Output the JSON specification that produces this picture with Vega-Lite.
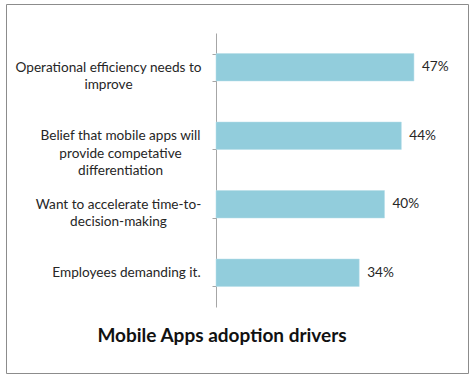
{
  "$schema": "https://vega.github.io/schema/vega-lite/v6.json",
  "autosize": "none",
  "padding": {"left": 6, "top": 4, "right": 7, "bottom": 6},
  "width": 462,
  "height": 369,
  "background": "white",
  "config": {
    "view": {"stroke": "#8c8c8c", "strokeWidth": 1},
    "font": "Lato"
  },
  "title": {
    "text": "Mobile Apps adoption drivers",
    "orient": "bottom",
    "anchor": "middle",
    "offset": -46,
    "dx": -15,
    "font": "Lato",
    "fontSize": 19,
    "fontWeight": "bold",
    "color": "#111111"
  },
  "data": {
    "values": [
      {"driver": "Operational efficiency needs to improve", "share": 0.47, "label": "47%"},
      {"driver": "Belief that mobile apps will provide competative differentiation", "share": 0.44, "label": "44%"},
      {"driver": "Want to accelerate time-to-decision-making", "share": 0.40, "label": "40%"},
      {"driver": "Employees demanding it.", "share": 0.34, "label": "34%"}
    ]
  },
  "encoding": {
    "y": {
      "field": "driver",
      "type": "nominal",
      "sort": null,
      "scale": {"range": [29, 303], "paddingInner": 0.6, "paddingOuter": 0.3},
      "axis": {
        "title": null,
        "offset": -210,
        "domainColor": "#a6a6a6",
        "tickColor": "#a6a6a6",
        "tickSize": 4,
        "tickBand": "extent",
        "labelAlign": "center",
        "labelBaseline": "middle",
        "labelFont": "Lato",
        "labelFontSize": 13.6,
        "labelColor": "#262626",
        "labelLineHeight": 17.5,
        "labelLimit": 0,
        "labelPadding": {
          "condition": [
            {"test": "datum.value === 'Operational efficiency needs to improve'", "value": 104},
            {"test": "datum.value === 'Belief that mobile apps will provide competative differentiation'", "value": 92},
            {"test": "datum.value === 'Want to accelerate time-to-decision-making'", "value": 94}
          ],
          "value": 86
        },
        "labelExpr": "datum.value === 'Operational efficiency needs to improve' ? ['Operational efficiency needs to', 'improve'] : datum.value === 'Belief that mobile apps will provide competative differentiation' ? ['Belief that mobile apps will', 'provide competative', 'differentiation'] : datum.value === 'Want to accelerate time-to-decision-making' ? ['Want to accelerate time-to-', 'decision-making'] : datum.value"
      }
    }
  },
  "layer": [
    {
      "mark": {"type": "bar", "color": "#92cddc", "stroke": "#b5dde8", "strokeWidth": 0.5},
      "encoding": {
        "x": {
          "field": "share",
          "type": "quantitative",
          "scale": {"domain": [0, 0.5], "range": [210, 420.6], "nice": false},
          "axis": null
        }
      }
    },
    {
      "mark": {"type": "text", "align": "left", "baseline": "middle", "dx": 8, "font": "Lato", "fontSize": 13.6, "color": "#262626"},
      "encoding": {
        "x": {"field": "share", "type": "quantitative"},
        "text": {"field": "label"}
      }
    }
  ]
}
